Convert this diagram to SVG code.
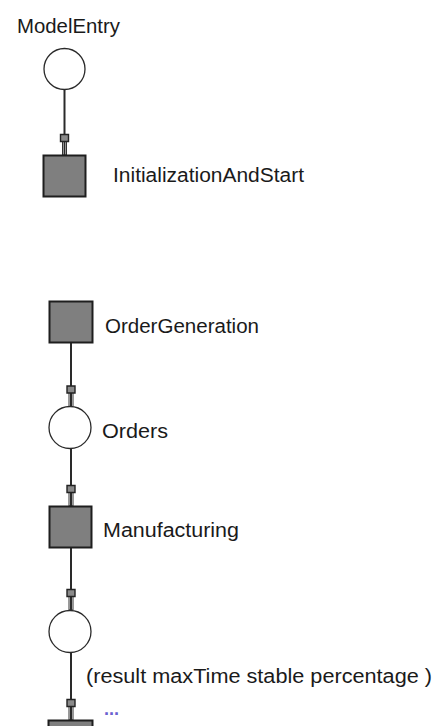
<svg xmlns="http://www.w3.org/2000/svg" width="438" height="726" viewBox="0 0 438 726">
  <style>
    .place { fill: #ffffff; stroke: #2a2a2a; stroke-width: 1.3; }
    .trans { fill: #7f7f7f; stroke: #1e1e1e; stroke-width: 2; }
    .lbl { font-family: "Liberation Sans", Arial, sans-serif; font-size: 20px; fill: #1a1a1a; }
    .arc { fill: none; stroke: #2a2a2a; stroke-width: 2; marker-end: url(#arr); }
  </style>
  <defs>
    <marker id="arr" markerUnits="userSpaceOnUse" markerWidth="24" markerHeight="12" viewBox="0 0 24 12" refX="21" refY="6" orient="auto" overflow="visible">
      <rect x="7" y="4" width="14" height="4" fill="none" stroke="#333333" stroke-width="1"/>
      <rect x="0.5" y="2" width="7" height="8" fill="#8a8a8a" stroke="#222222" stroke-width="1.4"/>
    </marker>
  </defs>
  <rect width="438" height="726" fill="#ffffff"/>

  <g id="connectors">
    <path class="arc" d="M64.5 89.5 V155"/>
    <path class="arc" d="M71 343 V406.5"/>
    <path class="arc" d="M71 448.5 V506"/>
    <path class="arc" d="M71 548 V610"/>
    <path class="arc" d="M71 652.5 V720"/>
  </g>

  <g id="ModelEntry">
    <circle class="place" cx="64.5" cy="69" r="20.5"/>
    <text class="lbl" x="17" y="33" textLength="103" lengthAdjust="spacingAndGlyphs">ModelEntry</text>
  </g>

  <g id="InitializationAndStart">
    <rect class="trans" x="43.5" y="155.5" width="42" height="41"/>
    <text class="lbl" x="113" y="182" textLength="191" lengthAdjust="spacingAndGlyphs">InitializationAndStart</text>
  </g>

  <g id="OrderGeneration">
    <rect class="trans" x="49.5" y="301.5" width="43" height="41"/>
    <text class="lbl" x="105" y="333" textLength="154" lengthAdjust="spacingAndGlyphs">OrderGeneration</text>
  </g>

  <g id="Orders">
    <circle class="place" cx="70" cy="427.5" r="21"/>
    <text class="lbl" x="102" y="438" textLength="66" lengthAdjust="spacingAndGlyphs">Orders</text>
  </g>

  <g id="Manufacturing">
    <rect class="trans" x="49.5" y="506.5" width="42" height="41"/>
    <text class="lbl" x="103" y="537" textLength="136" lengthAdjust="spacingAndGlyphs">Manufacturing</text>
  </g>

  <g id="ResultPlace">
    <circle class="place" cx="70" cy="631.5" r="21"/>
    <text class="lbl" x="86" y="683" textLength="346" lengthAdjust="spacingAndGlyphs">(result maxTime stable percentage )</text>
  </g>

  <g id="NextTransition">
    <rect class="trans" x="48.5" y="720.5" width="44" height="41"/>
    <text x="104" y="715" font-family="'Liberation Sans', Arial, sans-serif" font-size="18" font-weight="bold" fill="#6a62d0" textLength="15" lengthAdjust="spacing">...</text>
  </g>
</svg>
